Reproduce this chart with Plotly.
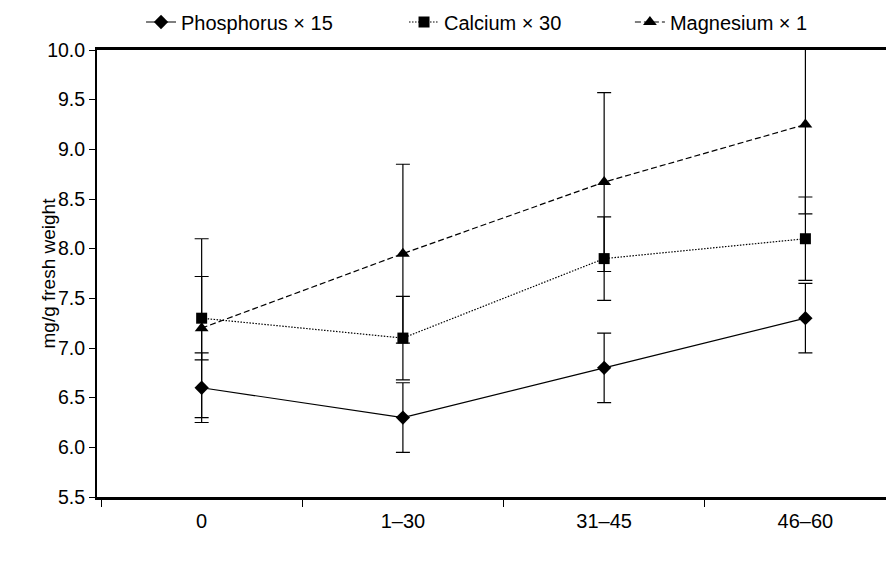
import plotly.graph_objects as go

categories = ["0", "1\u201330", "31\u201345", "46\u201360"]

phosphorus = [6.6, 6.3, 6.8, 7.3]
phosphorus_err = [0.35, 0.35, 0.35, 0.35]

calcium = [7.3, 7.1, 7.9, 8.1]
calcium_err = [0.42, 0.42, 0.42, 0.42]

magnesium = [7.2, 7.95, 8.67, 9.25]
magnesium_err = [0.9, 0.9, 0.9, 0.9]

y_ticks = [5.5, 6.0, 6.5, 7.0, 7.5, 8.0, 8.5, 9.0, 9.5, 10.0]

FONT = "Liberation Sans, Arial, Helvetica, sans-serif"

fig = go.Figure()

def add(name, vals, errs, dash, symbol, size, legend):
    fig.add_trace(go.Scatter(
        x=categories, y=vals, name=name, mode="lines+markers",
        line=dict(color="black", width=1.2, dash=dash),
        marker=dict(symbol=symbol, size=size, color="black"),
        error_y=dict(type="data", array=errs, visible=True, color="black",
                     thickness=1.2, width=7),
        cliponaxis=False, legend=legend,
    ))

add("Phosphorus \u00d7 15", phosphorus, phosphorus_err, "solid", "diamond", 11, "legend")
add("Calcium \u00d7 30", calcium, calcium_err, "1.5px,1.5px", "square", 11, "legend2")
add("Magnesium \u00d7 1", magnesium, magnesium_err, "6px,3px", "triangle-up", 12, "legend3")

def leg(x):
    return dict(orientation="h", x=x, xanchor="left", y=1.0626, yanchor="middle",
                font=dict(family=FONT, size=20, color="black"),
                bgcolor="rgba(0,0,0,0)", itemwidth=30)

fig.update_layout(
    width=894, height=575,
    margin=dict(l=89, r=0, t=42, b=86, autoexpand=False),
    plot_bgcolor="white", paper_bgcolor="white",
    font=dict(family=FONT, size=19.5, color="black"),
    showlegend=True,
    legend=leg(0.0547),
    legend2=leg(0.3814),
    legend3=leg(0.6620),
    annotations=[dict(
        text="mg/g fresh weight", xref="paper", yref="paper", x=0, y=0.5,
        xshift=-49, textangle=-90, showarrow=False, xanchor="center", yanchor="middle",
        font=dict(family=FONT, size=19, color="black"),
    )],
)
fig.update_xaxes(
    type="category", range=[-0.52, 3.48],
    showline=True, linecolor="black", linewidth=2.5, mirror=True,
    ticks="outside", tickson="boundaries", ticklen=7, tickwidth=1.2, tickcolor="black",
    ticklabelstandoff=4, tickfont=dict(size=20),
    showgrid=False, zeroline=False,
)
fig.update_yaxes(
    range=[5.5, 10.0], tickvals=y_ticks, tickformat=".1f",
    showline=True, linecolor="black", linewidth=2, mirror=False,
    ticks="outside", ticklen=6, tickwidth=1.2, tickcolor="black",
    showgrid=False, zeroline=False,
)

fig.write_html("out.html")
